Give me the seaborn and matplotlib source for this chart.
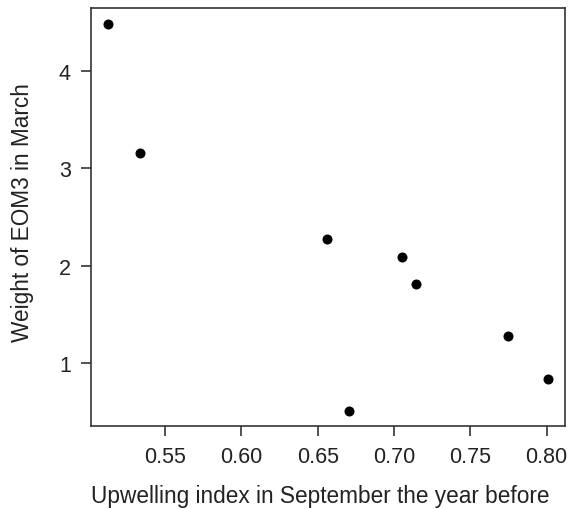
import matplotlib
matplotlib.use("Agg")
import matplotlib.pyplot as plt
import seaborn as sns
import pandas as pd

upwelling = [0.5126, 0.5336, 0.6561, 0.6707, 0.7054, 0.7144, 0.7744, 0.8010]
weight = [4.48, 3.16, 2.27, 0.51, 2.095, 1.81, 1.28, 0.84]
xticks = [0.55, 0.60, 0.65, 0.70, 0.75, 0.80]
yticks = [1, 2, 3, 4]

sns.set_style("white")
plt.rcParams['font.family'] = ['Liberation Sans', 'DejaVu Sans']

df = pd.DataFrame({"x": upwelling, "y": weight})
fig = plt.figure(figsize=(5.71, 5.10), dpi=100)
ax = fig.add_axes([91/571, 1 - 427/510, (565-91)/571, (427-9)/510])
sns.scatterplot(data=df, x="x", y="y", ax=ax, color="black", s=52, edgecolor="black", linewidth=0)
ax.set_xlim(0.5015, 0.812)
ax.set_ylim(0.36, 4.64)
ax.set_xticks(xticks)
ax.set_xticklabels([f"{v:.2f}" for v in xticks])
ax.set_yticks(yticks)
ax.set_yticklabels([str(v) for v in yticks])
for s in ax.spines.values():
    s.set_color("#333333")
    s.set_linewidth(1.2)
ax.tick_params(axis="both", direction="out", length=7.5, width=1.2, color="#333333",
               labelsize=15.5, labelcolor="#222222", pad=7, left=True, bottom=True)
ax.set_xlabel("Upwelling index in September the year before", fontsize=16.3, color="#222222", labelpad=12)
ax.set_ylabel("Weight of EOM3 in March", fontsize=16.3, color="#222222", labelpad=18)
ax.xaxis.label.set_x((320 - 91) / 474)
ax.yaxis.label.set_y((427 - 212.5) / 418)
fig.savefig("out.png", dpi=100)
